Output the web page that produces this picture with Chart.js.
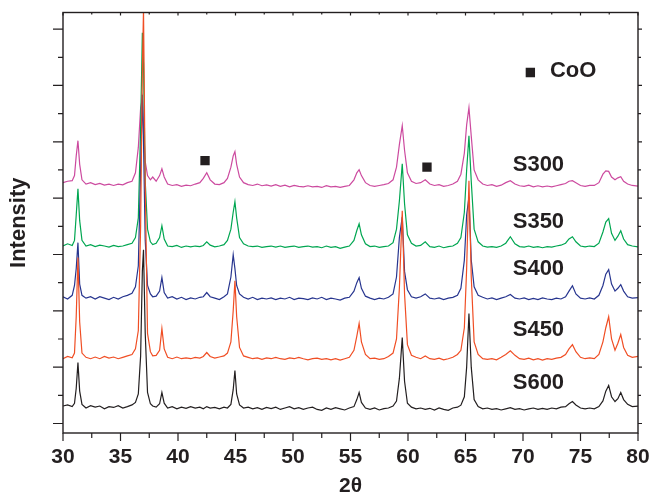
<!DOCTYPE html>
<html><head><meta charset="utf-8">
<script src="https://cdn.jsdelivr.net/npm/chart.js@4.4.1/dist/chart.umd.min.js"></script>
<style>html,body{margin:0;padding:0;background:#fff}#wrap{width:652px;height:494px}</style>
</head><body><div id="wrap"><canvas id="c" width="652" height="494"></canvas></div>
<script>
// 2-theta positions (degrees)
const twoTheta = [
  30.0, 30.4, 30.8, 31.0, 31.15, 31.3, 31.45, 31.65, 32.0, 32.4,
  32.8, 33.2, 33.6, 34.0, 34.4, 34.8, 35.2, 35.6, 36.0,
  36.3, 36.55, 36.75, 36.9, 37.0, 37.15, 37.35, 37.6, 37.8, 38.1,
  38.4, 38.6, 38.8, 39.1, 39.5, 39.9, 40.3, 40.7, 41.1, 41.5,
  41.9, 42.2, 42.5, 42.8, 43.2, 43.6, 44.0, 44.3, 44.6,
  44.8, 44.95, 45.1, 45.35, 45.7, 46.1, 46.5, 46.9, 47.3, 47.7,
  48.1, 48.5, 48.9, 49.3, 49.7, 50.1, 50.5, 50.9, 51.3, 51.7,
  52.1, 52.5, 52.9, 53.3, 53.7, 54.1, 54.5, 54.9, 55.3,
  55.55, 55.75, 55.95, 56.3, 56.7, 57.1, 57.5, 57.9, 58.3, 58.7,
  59.0, 59.25, 59.5, 59.7, 59.95, 60.3, 60.7, 61.1, 61.5, 61.9,
  62.3, 62.7, 63.1, 63.5, 63.9, 64.3, 64.6, 64.9,
  65.1, 65.3, 65.5, 65.75, 66.1, 66.5, 66.9, 67.3, 67.7, 68.1,
  68.5, 68.9, 69.3, 69.7, 70.1, 70.5, 70.9, 71.3, 71.7, 72.1,
  72.5, 72.9, 73.3, 73.7, 74.0, 74.3, 74.6, 75.0, 75.4, 75.8,
  76.2, 76.6, 76.95, 77.2, 77.45, 77.7, 78.0, 78.25, 78.5, 78.75,
  79.1, 79.5, 80.0
];
// Intensities (arbitrary units, curves stacked with offsets as in the figure)
const S300 = [
  8.55, 8.6, 8.62, 8.8, 9.5, 10.04, 9.2, 8.65, 8.5, 8.55,
  8.48, 8.52, 8.46, 8.5, 8.45, 8.5, 8.47, 8.55, 8.6,
  8.9, 9.8, 11.2, 11.56, 10.6, 9.3, 8.8, 8.65, 8.75, 8.6,
  8.8, 9.04, 8.75, 8.5, 8.45, 8.48, 8.42, 8.46, 8.44, 8.5,
  8.55, 8.7, 8.9, 8.65, 8.5, 8.48, 8.55, 8.7, 9.1,
  9.5, 9.65, 9.2, 8.75, 8.55, 8.48, 8.45, 8.5, 8.44, 8.47,
  8.43, 8.48, 8.42, 8.46, 8.4, 8.45, 8.42, 8.4, 8.44, 8.4,
  8.42, 8.38, 8.44, 8.4, 8.42, 8.38, 8.42, 8.45, 8.65,
  8.9, 9.01, 8.8, 8.55, 8.45, 8.42, 8.45, 8.48, 8.52, 8.65,
  9.1, 9.9, 10.57, 9.7, 8.9, 8.6, 8.52, 8.55, 8.65, 8.5,
  8.45, 8.48, 8.42, 8.45, 8.5, 8.6, 8.85, 9.6,
  10.6, 11.21, 10.2, 9.0, 8.65, 8.5, 8.45, 8.48, 8.42, 8.46,
  8.55, 8.62, 8.5, 8.44, 8.42, 8.46, 8.4, 8.44, 8.4, 8.43,
  8.4, 8.44, 8.48, 8.52, 8.6, 8.62, 8.55, 8.45, 8.42, 8.45,
  8.45, 8.55, 8.85, 8.97, 8.95, 8.75, 8.65, 8.72, 8.76, 8.6,
  8.5, 8.45, 8.43
];
const S350 = [
  6.3, 6.38, 6.32, 6.5, 7.4, 8.33, 7.2, 6.5, 6.3, 6.35,
  6.28, 6.33, 6.3, 6.26, 6.32, 6.28, 6.3, 6.35, 6.4,
  6.6, 7.3, 10.5, 13.87, 12.8, 8.6, 6.9, 6.45, 6.35, 6.4,
  6.6, 7.02, 6.55, 6.3, 6.28, 6.32, 6.25, 6.3, 6.27, 6.3,
  6.28, 6.32, 6.45, 6.33, 6.27, 6.3, 6.35, 6.5, 6.9,
  7.5, 7.87, 7.3, 6.6, 6.38, 6.3, 6.28, 6.3, 6.25, 6.28,
  6.3, 6.26, 6.3, 6.25, 6.28, 6.3, 6.25, 6.28, 6.3, 6.26,
  6.28, 6.24, 6.3, 6.25, 6.28, 6.22, 6.26, 6.3, 6.5,
  6.85, 7.09, 6.7, 6.38, 6.28, 6.3, 6.25, 6.28, 6.3, 6.42,
  6.9, 7.9, 9.22, 7.8, 6.7, 6.4, 6.3, 6.32, 6.45, 6.28,
  6.25, 6.3, 6.24, 6.28, 6.3, 6.4, 6.6, 7.5,
  9.0, 10.21, 8.6, 6.9, 6.45, 6.3, 6.26, 6.28, 6.25, 6.3,
  6.4, 6.63, 6.38, 6.28, 6.26, 6.3, 6.25, 6.28, 6.24, 6.28,
  6.26, 6.3, 6.33, 6.4, 6.55, 6.63, 6.45, 6.3, 6.27, 6.3,
  6.28, 6.4, 6.8, 7.15, 7.27, 6.75, 6.5, 6.65, 6.84, 6.55,
  6.35, 6.3, 6.27
];
const S400 = [
  4.5, 4.42, 4.55, 4.9, 5.5, 6.42, 4.95, 4.55, 4.45, 4.5,
  4.42, 4.5, 4.45, 4.4, 4.48, 4.42, 4.5, 4.55, 4.62,
  4.85, 5.6, 9.0, 11.67, 10.0, 6.5, 4.9, 4.6, 4.5, 4.52,
  4.7, 5.18, 4.65, 4.45, 4.5, 4.42, 4.48, 4.4, 4.46, 4.42,
  4.48, 4.5, 4.65, 4.5, 4.45, 4.4, 4.5, 4.6, 5.2,
  5.99, 5.5, 4.9, 4.6, 4.48, 4.42, 4.48, 4.4, 4.45, 4.42,
  4.46, 4.4, 4.45, 4.42, 4.48, 4.4, 4.45, 4.43, 4.4, 4.46,
  4.42, 4.48, 4.4, 4.45, 4.42, 4.38, 4.45, 4.48, 4.7,
  5.0, 5.18, 4.8, 4.52, 4.45, 4.4, 4.45, 4.42, 4.48, 4.6,
  5.2, 6.6, 7.34, 5.4, 4.75, 4.5, 4.45, 4.5, 4.6, 4.45,
  4.42, 4.46, 4.4, 4.45, 4.48, 4.55, 4.8, 5.8,
  7.4, 8.05, 5.8, 4.85, 4.55, 4.48, 4.42, 4.46, 4.4, 4.45,
  4.5, 4.58, 4.45, 4.42, 4.46, 4.4, 4.44, 4.4, 4.46, 4.42,
  4.4, 4.45, 4.42, 4.5, 4.7, 4.89, 4.6, 4.45, 4.42, 4.46,
  4.42, 4.55, 4.9, 5.3, 5.46, 4.95, 4.7, 4.8, 4.93, 4.7,
  4.5, 4.45, 4.47
];
const S450 = [
  2.3, 2.38, 2.33, 2.5, 3.8, 5.89, 3.6, 2.5, 2.35, 2.3,
  2.36, 2.3, 2.38, 2.32, 2.36, 2.3, 2.35, 2.4, 2.45,
  2.65, 3.3, 7.0, 12.5, 14.7, 8.5, 3.2, 2.55, 2.4, 2.42,
  2.6, 3.37, 2.65, 2.35, 2.3, 2.36, 2.3, 2.33, 2.3, 2.35,
  2.32, 2.38, 2.52, 2.38, 2.32, 2.36, 2.4, 2.5, 2.9,
  4.0, 5.07, 3.8, 2.7, 2.4, 2.35, 2.3, 2.33, 2.28, 2.33,
  2.3, 2.35, 2.3, 2.28, 2.33, 2.3, 2.35, 2.3, 2.26, 2.3,
  2.32, 2.28, 2.3, 2.26, 2.3, 2.25, 2.3, 2.35, 2.6,
  3.1, 3.55, 2.9, 2.45, 2.3, 2.32, 2.28, 2.3, 2.38, 2.5,
  3.0, 4.8, 7.55, 4.6, 2.8, 2.42, 2.35, 2.3, 2.4, 2.3,
  2.28, 2.32, 2.26, 2.3, 2.35, 2.45, 2.6, 3.4,
  5.5, 8.62, 5.2, 2.9, 2.45, 2.3, 2.28, 2.3, 2.26, 2.35,
  2.45, 2.58, 2.42, 2.3, 2.28, 2.32, 2.26, 2.3, 2.25, 2.3,
  2.28, 2.32, 2.35, 2.45, 2.65, 2.8, 2.55, 2.35, 2.3, 2.33,
  2.3, 2.45, 2.9, 3.4, 3.79, 3.0, 2.6, 2.85, 3.16, 2.7,
  2.42, 2.35, 2.38
];
const S600 = [
  0.62, 0.66, 0.6, 0.72, 1.25, 2.16, 1.15, 0.68, 0.55, 0.63,
  0.58, 0.62, 0.52, 0.6, 0.57, 0.63, 0.55, 0.6, 0.66,
  0.75, 1.05, 2.4, 5.4, 6.17, 3.2, 1.1, 0.7, 0.62, 0.58,
  0.7, 1.1, 0.72, 0.55, 0.6, 0.52, 0.58, 0.54, 0.6, 0.55,
  0.58, 0.52, 0.6, 0.55, 0.57, 0.52, 0.58, 0.55, 0.68,
  1.2, 1.88, 1.05, 0.66, 0.55, 0.58, 0.52, 0.56, 0.5, 0.57,
  0.53, 0.58, 0.5, 0.55, 0.6, 0.52, 0.56, 0.5, 0.55, 0.58,
  0.5, 0.47, 0.55, 0.5, 0.56, 0.52, 0.48, 0.55, 0.6,
  0.85, 1.1, 0.75, 0.55, 0.5, 0.55, 0.48, 0.53, 0.55, 0.62,
  0.8, 1.6, 3.05, 1.5, 0.72, 0.58, 0.52, 0.55, 0.5, 0.54,
  0.48, 0.55, 0.5, 0.47, 0.55, 0.58, 0.65, 0.95,
  2.0, 3.9, 2.0, 0.85, 0.6, 0.52, 0.55, 0.5, 0.53, 0.48,
  0.52, 0.56, 0.5, 0.53, 0.48, 0.52, 0.55, 0.5, 0.54, 0.5,
  0.55, 0.52, 0.58, 0.6, 0.7, 0.78, 0.66, 0.55, 0.52, 0.55,
  0.52, 0.6, 0.8, 1.15, 1.35, 0.95, 0.78, 0.88, 1.1, 0.85,
  0.68, 0.6, 0.62
];
// CoO reflections (filled squares) and legend square
const cooMarkX = [42.35, 61.65, 70.64];
const cooMarkY = [9.33, 9.1, 12.46];
const sampleNames = ['S300', 'S350', 'S400', 'S450', 'S600'];
const sampleLabelY = [9.18, 7.16, 5.48, 3.33, 1.45];
const sampleLabelX = 71.34;
const legendText = 'CoO';
const legendTextX = 72.34;
const legendTextY = 12.52;
const xTickValues = [30, 35, 40, 45, 50, 55, 60, 65, 70, 75, 80];

const AXIS = '#231f20';
const FONT = '"Liberation Sans", Arial, Helvetica, sans-serif';

function series(vals) { return twoTheta.map((x, i) => ({x: x, y: vals[i]})); }
function ds(label, vals, color) {
  return {label, data: series(vals), borderColor: color, borderWidth: 1.2,
    pointRadius: 0, tension: 0, fill: false};
}

const framePlugin = {
  id: 'frame',
  afterDatasetsDraw(chart) {
    const {ctx, chartArea: a, scales: {x, y}} = chart;
    ctx.save();
    ctx.strokeStyle = AXIS;
    ctx.lineWidth = 1.4;
    ctx.strokeRect(a.left, a.top, a.right - a.left, a.bottom - a.top);
    ctx.lineWidth = 1.2;
    ctx.beginPath();
    for (let v = 30; v <= 80.001; v += 2.5) {
      const px = x.getPixelForValue(v);
      const major = Math.abs(v % 5) < 1e-6;
      ctx.moveTo(px, a.bottom); ctx.lineTo(px, a.bottom + (major ? 8 : 5));
      ctx.moveTo(px, a.top); ctx.lineTo(px, a.top + (major ? 3 : 2));
    }
    for (let v = 0; v <= 14; v++) {
      const py = y.getPixelForValue(v);
      const major = v % 2 === 0;
      ctx.moveTo(a.left, py); ctx.lineTo(a.left - (major ? 10 : 5), py);
      ctx.moveTo(a.right, py); ctx.lineTo(a.right + (major ? 4 : 3), py);
    }
    ctx.stroke();
    ctx.fillStyle = AXIS;
    ctx.font = 'bold 22px ' + FONT;
    ctx.textAlign = 'center';
    ctx.textBaseline = 'middle';
    sampleNames.forEach((t, i) => {
      ctx.fillText(t, x.getPixelForValue(sampleLabelX), y.getPixelForValue(sampleLabelY[i]));
    });
    ctx.textAlign = 'left';
    ctx.fillText(legendText, x.getPixelForValue(legendTextX), y.getPixelForValue(legendTextY));
    ctx.restore();
  }
};

new Chart(document.getElementById('c'), {
  type: 'line',
  data: {
    datasets: [
      {type: 'scatter', label: 'CoO', data: cooMarkX.map((x, i) => ({x, y: cooMarkY[i]})),
        pointStyle: 'rect', pointRadius: 6.6, backgroundColor: AXIS, borderColor: AXIS,
        borderWidth: 0, showLine: false},
      ds('S450', S450, '#f04e24'),
      ds('S400', S400, '#27358f'),
      ds('S350', S350, '#00a651'),
      ds('S600', S600, '#231f20'),
      ds('S300', S300, '#cc4a9f')
    ]
  },
  options: {
    responsive: false,
    animation: false,
    devicePixelRatio: 1,
    layout: {padding: {top: 12.5, right: 14, left: 0, bottom: 0}},
    plugins: {legend: {display: false}, tooltip: {enabled: false}},
    scales: {
      x: {
        type: 'linear', min: 30, max: 80,
        afterFit: s => { s.height = 61; s.paddingLeft = 0; s.paddingRight = 0; },
        afterBuildTicks: s => { s.ticks = xTickValues.map(v => ({value: v})); },
        grid: {display: false, drawTicks: false},
        border: {display: false},
        ticks: {autoSkip: false, maxRotation: 0, padding: 12, color: AXIS,
          font: {family: FONT, size: 21, weight: 'bold'}},
        title: {display: true, text: '2θ', color: AXIS, padding: {top: 0, bottom: 0},
          font: {family: FONT, size: 21, weight: 'bold', lineHeight: 0.762}}
      },
      y: {
        type: 'linear', min: -0.337, max: 14.59,
        afterFit: s => { s.width = 63; s.paddingTop = 0; s.paddingBottom = 0; },
        grid: {display: false, drawTicks: false},
        border: {display: false},
        ticks: {display: false},
        title: {display: true, text: 'Intensity', color: AXIS, padding: {top: 5.4, bottom: 0},
          font: {family: FONT, size: 22, weight: 'bold'}}
      }
    }
  },
  plugins: [framePlugin]
});
</script>
</body></html>
